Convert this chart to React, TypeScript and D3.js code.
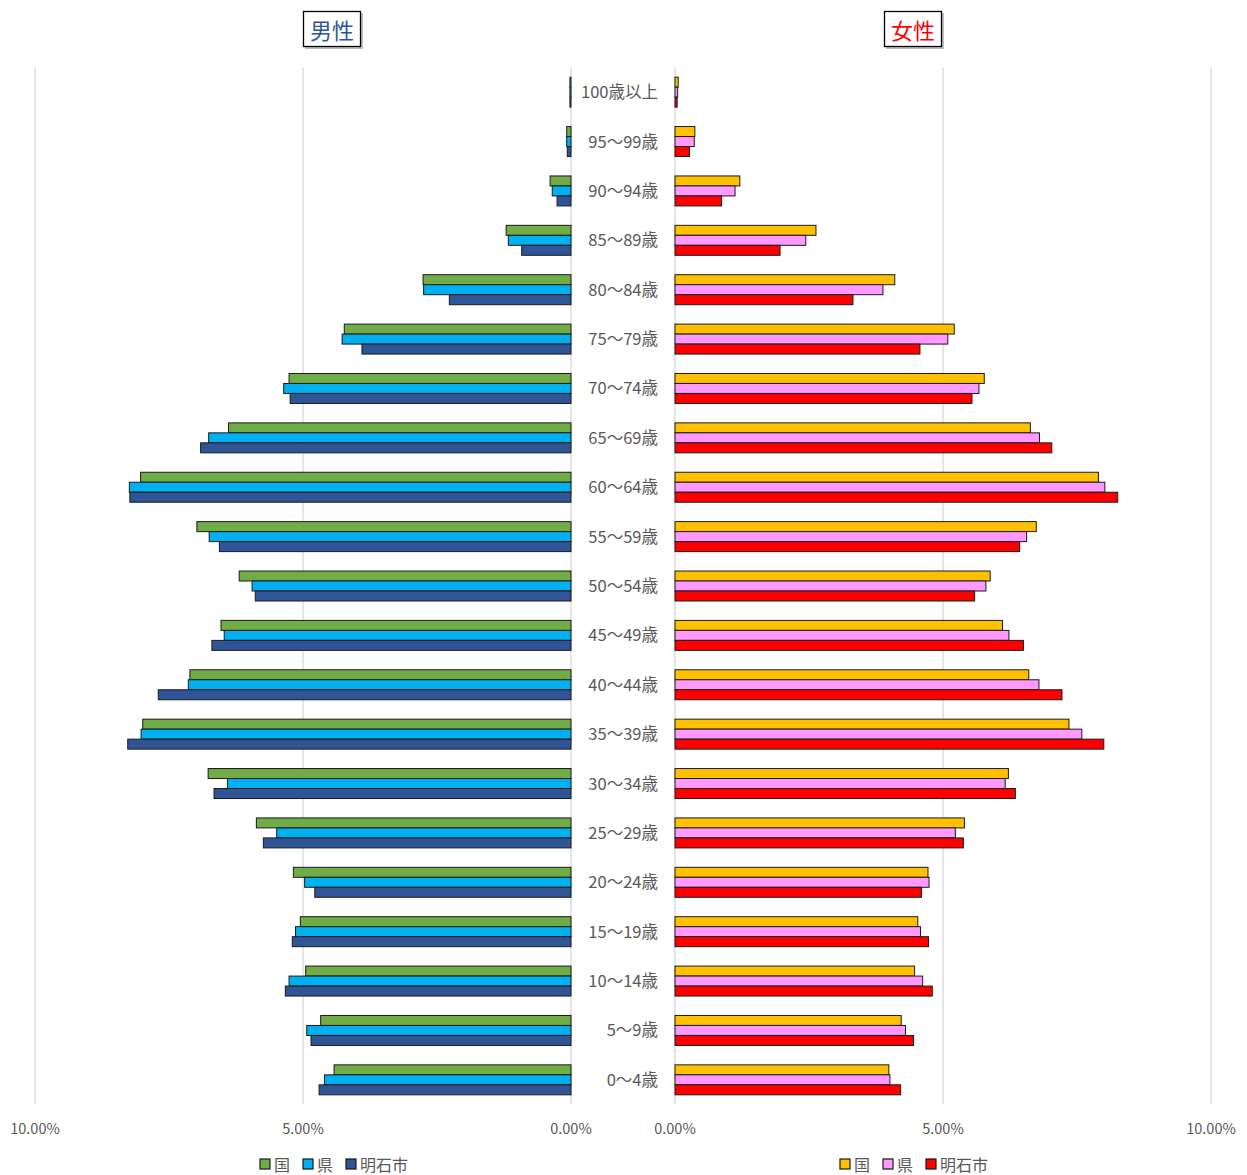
import React from "react";
import * as d3 from "d3";

const categories = [
  "100歳以上", "95〜99歳", "90〜94歳", "85〜89歳", "80〜84歳", "75〜79歳", "70〜74歳",
  "65〜69歳", "60〜64歳", "55〜59歳", "50〜54歳", "45〜49歳", "40〜44歳", "35〜39歳",
  "30〜34歳", "25〜29歳", "20〜24歳", "15〜19歳", "10〜14歳", "5〜9歳", "0〜4歳",
];

// 男性 (%)
const maleKuni = [0.02, 0.08, 0.39, 1.21, 2.76, 4.23, 5.26, 6.39, 8.03, 6.98, 6.19, 6.53, 7.11, 7.99, 6.77, 5.87, 5.18, 5.05, 4.95, 4.67, 4.42];
const maleKen = [0.02, 0.08, 0.35, 1.17, 2.75, 4.27, 5.36, 6.76, 8.24, 6.75, 5.95, 6.47, 7.14, 8.02, 6.41, 5.49, 4.97, 5.14, 5.26, 4.93, 4.60];
const maleAkashi = [0.02, 0.07, 0.26, 0.92, 2.27, 3.90, 5.24, 6.91, 8.23, 6.56, 5.89, 6.70, 7.70, 8.27, 6.66, 5.74, 4.78, 5.20, 5.33, 4.85, 4.70];

// 女性 (%)
const femaleKuni = [0.06, 0.37, 1.21, 2.63, 4.10, 5.21, 5.77, 6.63, 7.90, 6.74, 5.88, 6.11, 6.60, 7.35, 6.22, 5.40, 4.72, 4.53, 4.47, 4.22, 3.99];
const femaleKen = [0.05, 0.36, 1.12, 2.44, 3.88, 5.09, 5.67, 6.80, 8.02, 6.56, 5.80, 6.23, 6.79, 7.59, 6.16, 5.23, 4.74, 4.58, 4.62, 4.30, 4.01];
const femaleAkashi = [0.04, 0.27, 0.87, 1.96, 3.32, 4.57, 5.54, 7.03, 8.26, 6.43, 5.59, 6.50, 7.22, 8.00, 6.35, 5.38, 4.60, 4.73, 4.80, 4.45, 4.21];

const tickValues = [0, 5, 10];
const seriesNames = ["国", "県", "明石市"];
const maleColors = ["#70AD47", "#00B0F0", "#2F5597"];
const femaleColors = ["#FFC000", "#FF99FF", "#FF0000"];

const FONT = "'Noto Sans CJK JP', 'Noto Sans', sans-serif";
const TEXT = "#595959";

export default function App() {
  const W = 1247, H = 1175;
  const top = 67.5, bottom = 1104.5;
  const y = d3.scaleBand<string>().domain(categories).range([top, bottom]).paddingInner(0.393).paddingOuter(0.196);
  const inner = d3.scaleBand<number>().domain([0, 1, 2]).range([0, y.bandwidth()]);
  const xL = d3.scaleLinear().domain([0, 10]).range([571, 35]);
  const xR = d3.scaleLinear().domain([0, 10]).range([675, 1211]);
  const male = [maleKuni, maleKen, maleAkashi];
  const female = [femaleKuni, femaleKen, femaleAkashi];
  const fmt = (v: number) => v.toFixed(2) + "%";

  return (
    <div style={{ position: "absolute", left: 0, top: 0 }}>
      <svg width={W} height={H} style={{ display: "block", background: "#fff" }}>
        {/* gridlines */}
        {tickValues.map((t) => (
          <g key={"g" + t}>
            <line x1={xL(t)} x2={xL(t)} y1={top} y2={bottom} stroke="#D9D9D9" strokeWidth={1.3} />
            <line x1={xR(t)} x2={xR(t)} y1={top} y2={bottom} stroke="#D9D9D9" strokeWidth={1.3} />
          </g>
        ))}
        {/* male bars */}
        {male.map((series, si) =>
          series.map((v, i) => (
            <rect
              key={`m${si}-${i}`}
              x={xL(v)}
              y={(y(categories[i]) as number) + (inner(si) as number)}
              width={xL(0) - xL(v)}
              height={inner.bandwidth()}
              fill={maleColors[si]}
              stroke="#1a1a1a"
              strokeWidth={1}
            />
          ))
        )}
        {/* female bars */}
        {female.map((series, si) =>
          series.map((v, i) => (
            <rect
              key={`f${si}-${i}`}
              x={xR(0)}
              y={(y(categories[i]) as number) + (inner(si) as number)}
              width={xR(v) - xR(0)}
              height={inner.bandwidth()}
              fill={femaleColors[si]}
              stroke="#1a1a1a"
              strokeWidth={1}
            />
          ))
        )}
        {/* category labels */}
        {categories.map((c) => (
          <text
            key={c}
            x={658}
            y={(y(c) as number) + y.bandwidth() / 2 - 1}
            textAnchor="end"
            dominantBaseline="central"
            fontFamily={FONT}
            fontSize={16.5}
            fill={TEXT}
          >
            {c}
          </text>
        ))}
        {/* tick labels */}
        {tickValues.map((t) => (
          <g key={"t" + t}>
            <text x={xL(t)} y={1127} textAnchor="middle" dominantBaseline="central" fontFamily={FONT} fontSize={14.5} fill={TEXT}>
              {fmt(t)}
            </text>
            <text x={xR(t)} y={1127} textAnchor="middle" dominantBaseline="central" fontFamily={FONT} fontSize={14.5} fill={TEXT}>
              {fmt(t)}
            </text>
          </g>
        ))}
        {/* titles */}
        <rect x={305} y={13} width={58} height={36} fill="#7f7f7f" opacity={0.5} />
        <rect x={303.5} y={11.5} width={57} height={35} fill="#fff" stroke="#000" strokeWidth={1.3} />
        <text x={332} y={29} textAnchor="middle" dominantBaseline="central" fontFamily={FONT} fontSize={22} fill="#2F5597">
          男性
        </text>
        <rect x={886} y={13} width={58} height={36} fill="#7f7f7f" opacity={0.5} />
        <rect x={884.5} y={11.5} width={57} height={35} fill="#fff" stroke="#000" strokeWidth={1.3} />
        <text x={913} y={29} textAnchor="middle" dominantBaseline="central" fontFamily={FONT} fontSize={22} fill="#FF0000">
          女性
        </text>
        {/* legends */}
        {[
          { x0: 260, colors: maleColors },
          { x0: 840, colors: femaleColors },
        ].map((lg, li) => {
          const offsets = [0, 43, 86];
          return (
            <g key={"lg" + li}>
              {seriesNames.map((n, i) => (
                <g key={n} transform={`translate(${lg.x0 + offsets[i]},1164)`}>
                  <rect x={0} y={-5} width={10} height={10} fill={lg.colors[i]} stroke="#1a1a1a" strokeWidth={1.2} />
                  <text x={14} y={0} dominantBaseline="central" fontFamily={FONT} fontSize={16} fill={TEXT}>
                    {n}
                  </text>
                </g>
              ))}
            </g>
          );
        })}
      </svg>
    </div>
  );
}
